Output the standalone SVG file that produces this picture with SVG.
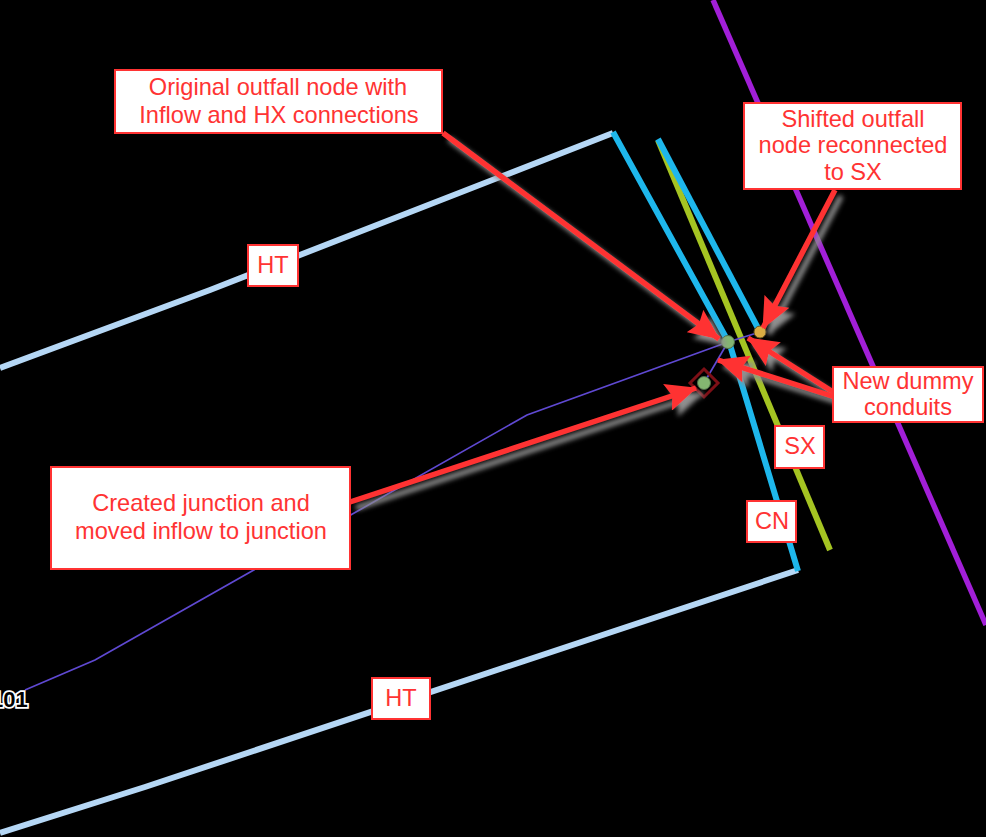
<svg xmlns="http://www.w3.org/2000/svg" width="986" height="837" viewBox="0 0 986 837">
<style>
.pipe{fill:none;stroke-linecap:butt;stroke-linejoin:miter}
.ht{stroke:#b5d7f5;stroke-width:6}
.cn{stroke:#1eb7ec;stroke-width:6}
.sx{stroke:#a5c422;stroke-width:6}
.pu{stroke:#a21fd8;stroke-width:5.5}
.link{fill:none;stroke:#5f49d2;stroke-width:1.7}
.box{fill:#fff;stroke:#ff3333;stroke-width:2}
.lbl{font-family:"Liberation Sans",Arial,sans-serif;font-size:23.6px;fill:#ff3333;text-anchor:middle}
.node{stroke:#4d6b45;stroke-width:1}
.arrow{stroke:#ff3333;stroke-width:5.5;fill:none;marker-end:url(#head);filter:url(#shadow)}
</style>
<defs>
<marker id="head" markerUnits="userSpaceOnUse" markerWidth="32" markerHeight="28" refX="30" refY="14" orient="auto">
<path d="M0 0L31 14L0 28L5 14Z" fill="#ff3333"/>
</marker>
<filter id="shadow" x="0" y="0" width="986" height="837" filterUnits="userSpaceOnUse">
<feDropShadow dx="6" dy="6" stdDeviation="2.5" flood-color="#8f8f8f" flood-opacity="1"/>
</filter>
</defs>
<rect width="986" height="837" fill="#000"/>
<g id="connectors">
<path class="pipe pu" d="M713 0L986 625"/>
<path class="pipe ht" d="M0 368L210 290L613 133"/>
<path class="pipe ht" d="M0 833L145 787L798 570"/>
<path class="pipe sx" d="M658 140L830 550"/>
<path class="pipe cn" d="M613 132L730 345L798 571"/>
<path class="pipe cn" d="M658 139L760 332"/>
<path class="link" d="M25 690L95 660L527 415L728 342L760 332"/>
<path class="link" d="M728 342L704 383"/>
</g>
<g id="node-junction">
<path d="M704 369L718 383L704 397L690 383Z" fill="none" stroke="#7d0f16" stroke-width="3"/>
<circle class="node" cx="704" cy="383" r="6.5" fill="#84b671"/>
</g>
<g id="node-original-outfall"><circle class="node" cx="728" cy="342" r="6.5" fill="#84b671"/></g>
<g id="node-shifted-outfall"><circle cx="760" cy="332" r="6" fill="#dcae42" stroke="#6b5520"/></g>
<g id="node-label-101">
<text x="-9" y="707" font-family="'Liberation Sans',Arial,sans-serif" font-size="22" font-weight="bold" fill="#000" stroke="#fff" stroke-width="3.5" paint-order="stroke">101</text>
</g>
<g id="arrows">
<path class="arrow" d="M443 133L719 339"/>
<path class="arrow" d="M835 190L763 328"/>
<path class="arrow" d="M833 392L748 338"/>
<path class="arrow" d="M835 397L718 360"/>
<path class="arrow" d="M350 502L696 388"/>
</g>
<g id="label-original"><rect class="box" x="115" y="70" width="327" height="63"/><text class="lbl" x="278" y="95">Original outfall node with</text><text class="lbl" x="279" y="123">Inflow and HX connections</text></g>
<g id="label-shifted"><rect class="box" x="744" y="103" width="217" height="86"/><text class="lbl" x="853" y="127">Shifted outfall</text><text class="lbl" x="853" y="153">node reconnected</text><text class="lbl" x="853" y="180">to SX</text></g>
<g id="label-dummy"><rect class="box" x="833" y="367" width="150" height="55"/><text class="lbl" x="908" y="389">New dummy</text><text class="lbl" x="908" y="415">conduits</text></g>
<g id="label-created"><rect class="box" x="51" y="467" width="299" height="102"/><text class="lbl" x="201" y="511">Created junction and</text><text class="lbl" x="201" y="539">moved inflow to junction</text></g>
<g id="label-ht1"><rect class="box" x="248" y="245" width="50" height="41"/><text class="lbl" x="273" y="273">HT</text></g>
<g id="label-ht2"><rect class="box" x="372" y="678" width="58" height="41"/><text class="lbl" x="401" y="706">HT</text></g>
<g id="label-sx"><rect class="box" x="775" y="426" width="49" height="42"/><text class="lbl" x="800" y="454">SX</text></g>
<g id="label-cn"><rect class="box" x="747" y="501" width="49" height="41"/><text class="lbl" x="772" y="529">CN</text></g>
</svg>
